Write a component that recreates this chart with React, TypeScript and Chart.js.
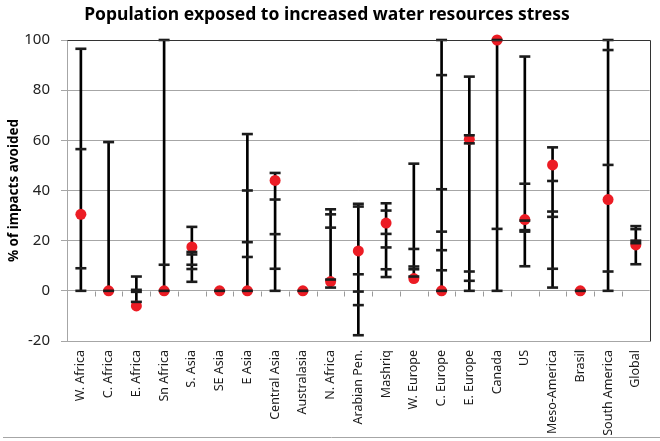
import React, { useEffect, useRef } from 'react';
import { Chart, registerables } from 'chart.js';

Chart.register(...registerables);

const titleText = 'Population exposed to increased water resources stress';
const yAxisTitle = '% of impacts avoided';

const categories = [
  'W. Africa', 'C. Africa', 'E. Africa', 'Sn Africa', 'S. Asia', 'SE Asia', 'E Asia',
  'Central Asia', 'Australasia', 'N. Africa', 'Arabian Pen.', 'Mashriq', 'W. Europe',
  'C. Europe', 'E. Europe', 'Canada', 'US', 'Meso-America', 'Brasil', 'South America', 'Global',
];

// individual model results (black dashes)
const modelValues: number[][] = [
  [96.5, 56.5, 9, 0],
  [59.3, 0],
  [5.7, 0.4, -0.4, -4.4],
  [100, 10.4, 0],
  [25.5, 15.5, 14.5, 10.4, 8.7, 3.6],
  [0],
  [62.5, 40, 19.4, 13.5, 0],
  [47, 36.4, 22.6, 8.8, 0],
  [0],
  [32.5, 30.5, 25.2, 4.5, 1.3],
  [34.7, 33.6, 6.6, -0.3, -5.7, -17.7],
  [34.9, 32, 22.7, 17.3, 8.6, 5.5],
  [50.7, 16.7, 9.7, 8.6, 5.7],
  [100, 86, 40.5, 23.6, 16.2, 8.2, 0],
  [85.4, 62, 58.8, 7.7, 4, 0],
  [100, 24.7, 0],
  [93.4, 42.7, 28, 24.2, 23.6, 9.8],
  [57.2, 43.8, 31.6, 29.5, 8.8, 1.3],
  [0],
  [100, 96, 50.2, 7.7, 0],
  [25.8, 24.6, 20, 19, 10.6],
];

// central estimate (red dots)
const centralValues = [
  30.5, 0, -6, 0, 17.5, 0, 0, 44, 0, 3.7, 15.9, 27, 4.9, 0, 60.4, 100, 28.4, 50.2, 0, 36.4, 18.3,
];

const yMin = -20;
const yMax = 100;
const yStep = 20;

export default function App() {
  const ref = useRef<HTMLCanvasElement>(null);

  useEffect(() => {
    if (!ref.current) return;
    const rangeData = modelValues.map((v) => [Math.min(...v), Math.max(...v)]);
    const tickPoints = categories.flatMap((c, i) => modelValues[i].map((y) => ({ x: c, y })));
    const centralPoints = categories.map((c, i) => ({ x: c, y: centralValues[i] }));

    const framePlugin = {
      id: 'frame',
      beforeDatasetsDraw(chart: any) {
        const { ctx, scales } = chart;
        const x = scales.x;
        const y = scales.y;
        const y0 = Math.round(y.getPixelForValue(0)) + 0.5;
        const half = (x.getPixelForValue(1) - x.getPixelForValue(0)) / 2;
        ctx.save();
        ctx.strokeStyle = '#9a9a9a';
        ctx.lineWidth = 1;
        for (let i = 1; i < categories.length; i++) {
          const px = Math.round(x.getPixelForValue(i) - half) + 0.5;
          ctx.beginPath();
          ctx.moveTo(px, y0);
          ctx.lineTo(px, y0 + 5);
          ctx.stroke();
        }
        ctx.restore();
      },
      afterDraw(chart: any) {
        const { ctx, chartArea: a, width, height } = chart;
        ctx.save();
        ctx.strokeStyle = '#333';
        ctx.lineWidth = 1;
        ctx.beginPath();
        ctx.moveTo(Math.round(a.left) + 0.5, Math.round(a.top) + 0.5);
        ctx.lineTo(Math.round(a.right) + 0.5, Math.round(a.top) + 0.5);
        ctx.lineTo(Math.round(a.right) + 0.5, Math.round(a.bottom) + 0.5);
        ctx.stroke();
        ctx.strokeStyle = '#a6a6a6';
        ctx.beginPath();
        ctx.moveTo(3, height - 3.5);
        ctx.lineTo(width, height - 3.5);
        ctx.stroke();
        ctx.restore();
      },
    };

    const chart = new Chart(ref.current, {
      type: 'bar',
      data: {
        labels: categories,
        datasets: [
          {
            type: 'line',
            data: tickPoints as any,
            showLine: false,
            pointStyle: 'line',
            pointRadius: 5.5,
            pointBorderWidth: 2.6,
            pointBorderColor: '#1c1c1c',
            pointBackgroundColor: '#1c1c1c',
            order: 1,
            clip: false as any,
          },
          {
            type: 'line',
            data: centralPoints as any,
            showLine: false,
            pointStyle: 'circle',
            pointRadius: 5.5,
            pointBorderWidth: 0,
            pointBackgroundColor: '#ec1c24',
            order: 2,
            clip: false as any,
          },
          {
            type: 'bar',
            data: rangeData as any,
            backgroundColor: '#000',
            barThickness: 2,
            borderWidth: 0,
            order: 3,
          },
        ],
      },
      options: {
        animation: false,
        responsive: true,
        maintainAspectRatio: false,
        layout: { padding: { left: 0, right: 6, top: 0, bottom: 0 } },
        plugins: {
          legend: { display: false },
          tooltip: { enabled: false },
          title: {
            display: true,
            text: titleText,
            color: '#000',
            font: { family: 'Noto Sans', size: 17.5, weight: 'bold' },
            padding: { top: 5, bottom: 14 },
          },
        },
        scales: {
          x: {
            type: 'category',
            offset: true,
            grid: { display: false, drawTicks: false },
            border: { display: true, color: '#a6a6a6' },
            ticks: {
              autoSkip: false,
              maxRotation: 90,
              minRotation: 90,
              padding: 9,
              color: '#1a1a1a',
              font: { family: 'Noto Sans', size: 12.5 },
            },
            afterFit: (s: any) => {
              s.height = 100;
            },
          },
          y: {
            min: yMin,
            max: yMax,
            ticks: {
              stepSize: yStep,
              padding: 11,
              color: '#222',
              font: { family: 'Noto Sans', size: 15 },
            },
            grid: { color: '#a6a6a6', tickLength: 6 },
            border: { display: true, color: '#a6a6a6' },
            title: {
              display: true,
              text: yAxisTitle,
              color: '#000',
              font: { family: 'Noto Sans', size: 13.5, weight: 'bold' },
              padding: { top: 6, bottom: 0 },
            },
            afterFit: (s: any) => {
              s.width = 67;
            },
          },
        },
      },
      plugins: [framePlugin],
    });

    return () => chart.destroy();
  }, []);

  return (
    <div style={{ position: 'fixed', left: 0, top: 0, width: 660, height: 441 }}>
      <canvas ref={ref} />
    </div>
  );
}
